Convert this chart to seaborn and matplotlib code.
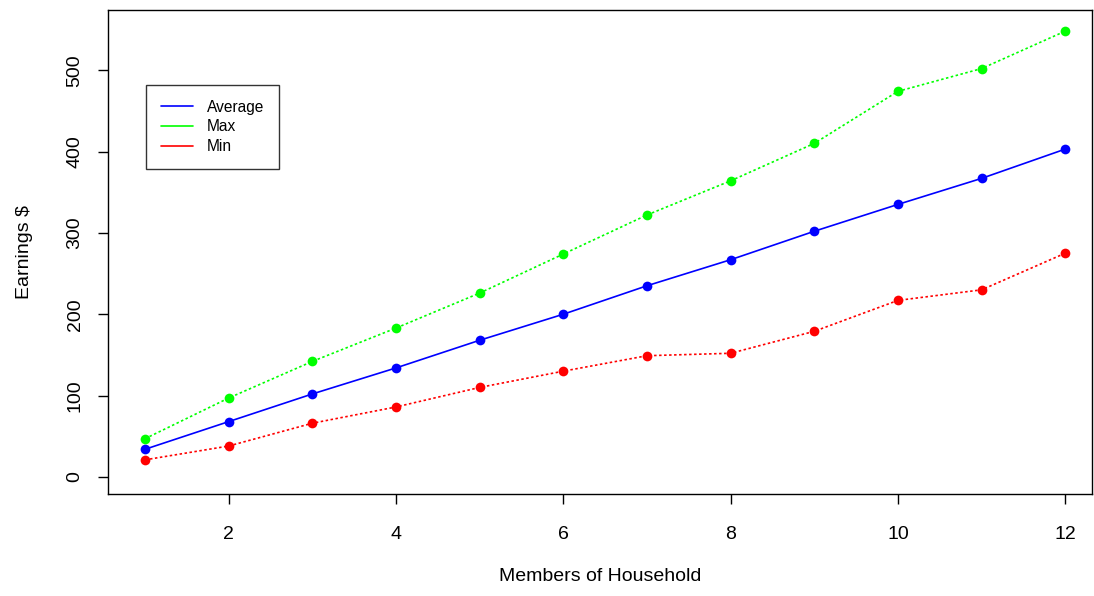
import matplotlib
matplotlib.use("Agg")
import matplotlib.pyplot as plt
from matplotlib.lines import Line2D
import seaborn as sns
import pandas as pd

members = [1, 2, 3, 4, 5, 6, 7, 8, 9, 10, 11, 12]
average = [34, 68, 102, 134, 168, 200, 235, 267, 302, 335, 367, 403]
maximum = [47, 97, 142, 183, 226, 274, 322, 364, 410, 474, 502, 548]
minimum = [21, 38, 66, 86, 110, 130, 149, 152, 179, 217, 230, 275]
series_names = ["Average", "Max", "Min"]
x_ticks = [2, 4, 6, 8, 10, 12]
y_ticks = [0, 100, 200, 300, 400, 500]

sns.set_theme(style="white")
plt.rcParams['font.family'] = ['Liberation Sans', 'DejaVu Sans']
plt.rcParams['text.color'] = 'black'
plt.rcParams['axes.labelcolor'] = 'black'
plt.rcParams['xtick.color'] = 'black'
plt.rcParams['ytick.color'] = 'black'

fig = plt.figure(figsize=(10.94, 5.96), dpi=100)
ax = fig.add_axes([108/1094, 1 - 494/596, (1092-108)/1094, (494-10)/596])

colors = {"Average": "#0000FF", "Max": "#00FF00", "Min": "#FF0000"}
styles = {"Average": "-", "Max": (0, (1.5, 1.5)), "Min": (0, (1.5, 1.5))}
data = {"Average": average, "Max": maximum, "Min": minimum}

for name in series_names:
    df = pd.DataFrame({"x": members, "y": data[name]})
    sns.lineplot(data=df, x="x", y="y", ax=ax, color=colors[name],
                 linestyle=styles[name], linewidth=1.2, marker="o",
                 markersize=7, markeredgewidth=0, estimator=None)

ax.set_xlim(0.557, 12.32)
ax.set_ylim(-21, 574)
ax.set_xticks(x_ticks)
ax.set_yticks(y_ticks)
ax.set_yticklabels([str(v) for v in y_ticks], rotation=90, va="center")
ax.tick_params(axis="both", direction="out", length=7, width=1, color="black",
               labelcolor="black", labelsize=14, left=True, bottom=True)
ax.tick_params(axis="x", pad=16)
ax.tick_params(axis="y", pad=10.5)
for s in ax.spines.values():
    s.set_color("black")
    s.set_linewidth(1)
ax.set_xlabel("Members of Household", fontsize=14, labelpad=18, color="black")
ax.set_ylabel("Earnings $", fontsize=14, labelpad=24, color="black")

handles = [Line2D([0], [0], color=colors[n], linewidth=1.2) for n in series_names]
leg = ax.legend(handles, series_names, loc="upper left",
                bbox_to_anchor=((146-108)/984, (494-85)/484),
                frameon=True, fancybox=False, fontsize=11.2,
                handlelength=2.05, handletextpad=0.92, labelspacing=0.3,
                borderpad=0.95, borderaxespad=0)
leg.get_frame().set_edgecolor("black")
leg.get_frame().set_linewidth(1)
for t in leg.get_texts():
    t.set_color("black")

fig.savefig("out.png", dpi=100)
